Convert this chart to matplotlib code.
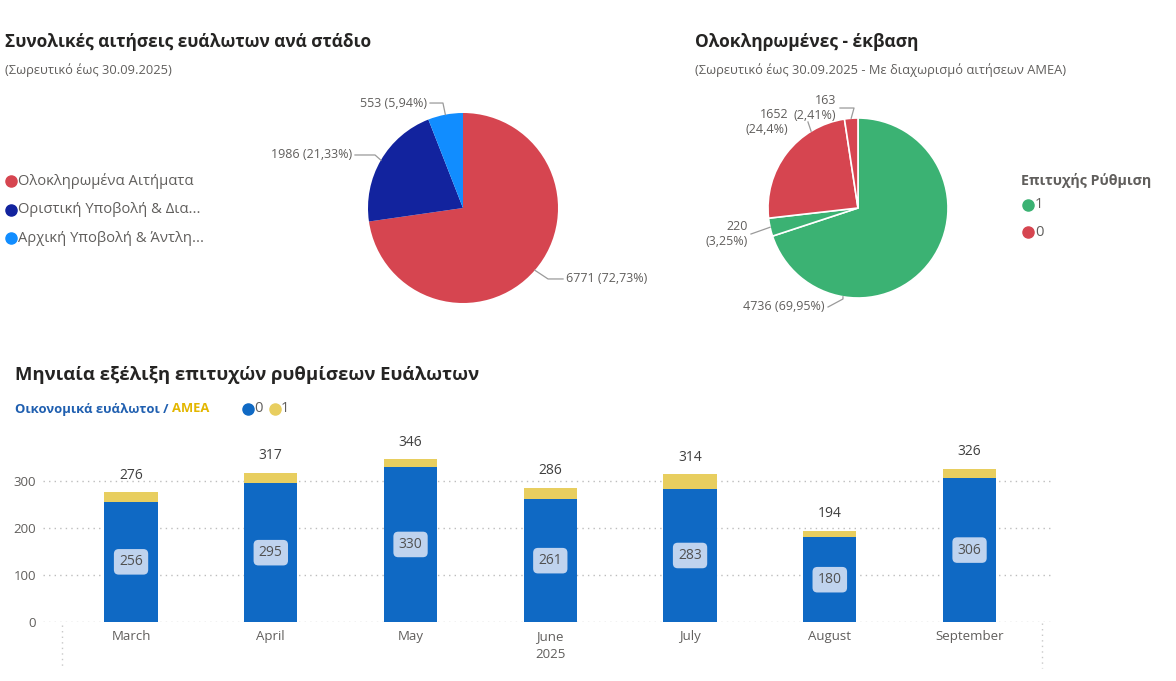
import matplotlib.pyplot as plt
import matplotlib.transforms as mtransforms
import numpy as np

plt.rcParams['font.family'] = ['Open Sans', 'DejaVu Sans']

# ---- data ----
stage_labels = ['Ολοκληρωμένα Αιτήματα', 'Οριστική Υποβολή & Δια...', 'Αρχική Υποβολή & Άντλη...']
stage_values = [6771, 1986, 553]
stage_pct = ['72,73%', '21,33%', '5,94%']

outcome_values = [4736, 220, 1652, 163]
outcome_pct = ['69,95%', '3,25%', '24,4%', '2,41%']
outcome_group = ['1', '1', '0', '0']

months = ['March', 'April', 'May', 'June', 'July', 'August', 'September']
vulnerable = [256, 295, 330, 261, 283, 180, 306]
totals = [276, 317, 346, 286, 314, 194, 326]
year_label = '2025'

# ---- colours ----
c_red = '#D64550'
c_navy = '#12239E'
c_light = '#118DFF'
c_green = '#3BB273'
c_bar_blue = '#0F69C4'
c_bar_yel = '#E8CE5F'
c_text = '#605E5C'
c_title = '#252423'

W, H = 1176, 681
fig = plt.figure(figsize=(W / 100, H / 100), dpi=100)

overlay = fig.add_axes([0, 0, 1, 1])
overlay.set_xlim(0, W)
overlay.set_ylim(H, 0)
overlay.axis('off')


def px_axes(x0, y0, x1, y1):
    return fig.add_axes([x0 / W, 1 - y1 / H, (x1 - x0) / W, (y1 - y0) / H])


def wedge_point(w, frac):
    # clockwise pie: slice starts at theta2
    ang = np.deg2rad(w.theta2 - frac * (w.theta2 - w.theta1))
    return np.cos(ang), np.sin(ang)


def leader(ax, w, frac, elbow, end, text, ha, gap=0.03):
    ax0 = wedge_point(w, frac)
    xs = [ax0[0]]
    ys = [ax0[1]]
    if elbow is not None:
        xs.append(elbow[0]); ys.append(elbow[1])
    if end is not None:
        xs.append(end[0]); ys.append(end[1])
    ax.plot(xs, ys, color='#9A9A9A', lw=0.9, clip_on=False)
    tx = xs[-1] + (gap if ha == 'left' else -gap)
    ax.text(tx, ys[-1], text, ha=ha, va='center', fontsize=9, color=c_text,
            clip_on=False, linespacing=1.2)


# ---- pie 1 ----
overlay.text(5, 42, 'Συνολικές αιτήσεις ευάλωτων ανά στάδιο', fontsize=12.4,
             fontweight='bold', color=c_title, va='center')
overlay.text(5, 70, '(Σωρευτικό έως 30.09.2025)', fontsize=9.3, color=c_text, va='center')

ax1 = px_axes(463 - 95, 208 - 95, 463 + 95, 208 + 95)
w1, _ = ax1.pie(stage_values, colors=[c_red, c_navy, c_light], startangle=90,
                counterclock=False, radius=1)
ax1.set_xlim(-1, 1)
ax1.set_ylim(-1, 1)
ax1.set_aspect('equal')

pie1_layout = [
    (0.5, (0.895, -0.747), (1.053, -0.747), 'left'),
    (0.5, (-0.926, 0.558), (-1.137, 0.558), 'right'),
    (0.5, (-0.211, 1.105), (-0.347, 1.105), 'right'),
]
for w, v, p, (fr, el, en, ha) in zip(w1, stage_values, stage_pct, pie1_layout):
    leader(ax1, w, fr, el, en, f'{v} ({p})', ha)

for i, (lab, col) in enumerate(zip(stage_labels, [c_red, c_navy, c_light])):
    yy = 181 + i * 28.5
    overlay.plot(11, yy, 'o', ms=8, color=col)
    overlay.text(18, yy, lab, fontsize=10.6, color=c_text, va='center')

# ---- pie 2 ----
overlay.text(695, 42, 'Ολοκληρωμένες - έκβαση', fontsize=12.5, fontweight='bold',
             color=c_title, va='center')
overlay.text(695, 70, '(Σωρευτικό έως 30.09.2025 - Με διαχωρισμό αιτήσεων ΑΜΕΑ)',
             fontsize=9.3, color=c_text, va='center')

grp_col = {'1': c_green, '0': c_red}
ax2 = px_axes(858 - 90, 208 - 90, 858 + 90, 208 + 90)
w2, _ = ax2.pie(outcome_values, colors=[grp_col[g] for g in outcome_group], startangle=90,
                counterclock=False, radius=1,
                wedgeprops=dict(edgecolor='white', linewidth=1.2))
ax2.set_xlim(-1, 1)
ax2.set_ylim(-1, 1)
ax2.set_aspect('equal')

pie2_layout = [
    (0.753, (-0.167, -1.011), (-0.333, -1.1), 'right', False),
    (0.5, None, (-1.189, -0.289), 'right', True),
    (0.741, (-0.556, 0.956), None, 'right', True),
    (0.5, (-0.044, 1.111), (-0.2, 1.111), 'right', True),
]
for w, v, p, (fr, el, en, ha, two) in zip(w2, outcome_values, outcome_pct, pie2_layout):
    txt = f'{v}\n({p})' if two else f'{v} ({p})'
    gap = 0.22 if en is None else 0.04
    leader(ax2, w, fr, el, en, txt, ha, gap=gap)

overlay.text(1021, 181, 'Επιτυχής Ρύθμιση', fontsize=10.3, fontweight='bold',
             color=c_text, va='center')
for i, g in enumerate(['1', '0']):
    yy = 205 + i * 27
    overlay.plot(1028, yy, 'o', ms=8, color=grp_col[g])
    overlay.text(1035, yy, g, fontsize=10.6, color=c_text, va='center')

# ---- stacked bars ----
overlay.text(15, 375, 'Μηνιαία εξέλιξη επιτυχών ρυθμίσεων Ευάλωτων', fontsize=13.3,
             fontweight='bold', color=c_title, va='center')
t1 = overlay.text(15, 409, 'Οικονομικά ευάλωτοι / ', fontsize=9.4, fontweight='bold',
                  color='#1F5FB0', va='center')
overlay.annotate('ΑΜΕΑ', xy=(1, 0.5), xycoords=t1, fontsize=9.4, fontweight='bold',
                 color='#E3B600', va='center', ha='left')
for xx, col, lab in [(248, c_bar_blue, '0'), (275, c_bar_yel, '1')]:
    overlay.plot(xx, 409, 'o', ms=8, color=col)
    overlay.text(xx + 6, 409, lab, fontsize=10.6, color=c_text, va='center')

ax3 = px_axes(43, 438.7, 1052, 622)
x = np.arange(len(months))
amea = [t - v for t, v in zip(totals, vulnerable)]
ax3.bar(x, vulnerable, width=0.38, color=c_bar_blue, zorder=3)
ax3.bar(x, amea, bottom=vulnerable, width=0.38, color=c_bar_yel, zorder=3)
ax3.set_xlim(-0.63, 6.59)
ax3.set_ylim(0, 390)
ax3.set_yticks([0, 100, 200, 300])
ax3.set_xticks(x, months)
ax3.tick_params(length=0, labelsize=9.5, colors=c_text)
ax3.tick_params(axis='x', pad=6)
ax3.tick_params(axis='y', pad=5)
ax3.grid(axis='y', linestyle=(0, (1, 3)), color='#BDBDBD', lw=1, zorder=0)
for s in ax3.spines.values():
    s.set_visible(False)

for xi, v, t in zip(x, vulnerable, totals):
    ax3.text(xi, v / 2, str(v), ha='center', va='center', fontsize=10, color='#505050',
             zorder=4, bbox=dict(boxstyle='round,pad=0.38,rounding_size=0.35',
                                 fc='#BFD3EE', ec='none'))
    ax3.annotate(str(t), (xi, t), xytext=(0, 7), textcoords='offset points',
                 ha='center', va='bottom', fontsize=10, color='#404040')

trans = mtransforms.blended_transform_factory(ax3.transData, ax3.transAxes)
ax3.text(np.mean(x), -0.14, year_label, transform=trans, ha='center', va='top',
         fontsize=9.5, color=c_text)

for xx, y0, y1 in [(62, 625, 668), (1042, 623, 668)]:
    overlay.plot([xx, xx], [y0, y1], linestyle=(0, (1, 3)), color='#C8C8C8', lw=1)

fig.savefig('out.png', dpi=100, facecolor='white')
